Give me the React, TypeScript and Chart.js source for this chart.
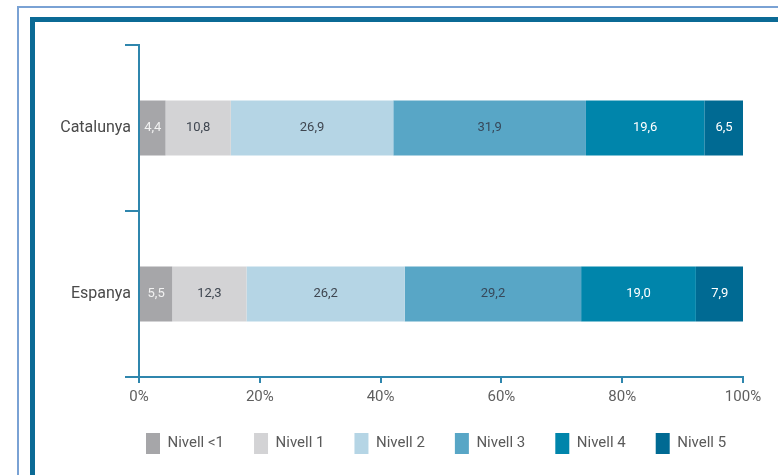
import React, { useEffect, useRef } from "react";
import { Chart, registerables } from "chart.js";

Chart.register(...registerables);

const categories = ["Catalunya", "Espanya"];
const seriesNames = ["Nivell <1", "Nivell 1", "Nivell 2", "Nivell 3", "Nivell 4", "Nivell 5"];
const nivellMenys1 = [4.4, 5.5];
const nivell1 = [10.8, 12.3];
const nivell2 = [26.9, 26.2];
const nivell3 = [31.9, 29.2];
const nivell4 = [19.6, 19.0];
const nivell5 = [6.5, 7.9];
const xTicks = [0, 20, 40, 60, 80, 100];

const seriesValues = [nivellMenys1, nivell1, nivell2, nivell3, nivell4, nivell5];
const seriesColors = ["#a6a6a9", "#d3d3d5", "#b5d5e5", "#58a6c6", "#0085ab", "#006a93"];
const labelColors = ["#f2f2f2", "#3f4650", "#3f4650", "#37485a", "#ffffff", "#ffffff"];

const FONT = "'Liberation Sans Narrow', 'Arial Narrow', Roboto, sans-serif";
const AXIS = "#2f86ad";

const valueLabels = {
  id: "valueLabels",
  afterDatasetsDraw(chart: any) {
    const ctx = chart.ctx;
    ctx.save();
    ctx.font = `13px ${FONT}`;
    ctx.textAlign = "center";
    ctx.textBaseline = "middle";
    chart.data.datasets.forEach((ds: any, i: number) => {
      const meta = chart.getDatasetMeta(i);
      meta.data.forEach((el: any, j: number) => {
        const v = ds.data[j];
        const cx = (el.x + el.base) / 2;
        ctx.fillStyle = labelColors[i];
        ctx.fillText(v.toFixed(1).replace(".", ","), cx, el.y);
      });
    });
    ctx.restore();
  },
};

const legendShift = {
  id: "legendShift",
  afterLayout(chart: any) {
    const lg = chart.legend;
    if (lg) {
      lg.left = 116;
      lg.right = 778;
      lg.top = 403;
      lg.bottom = 475;
    }
  },
};

export default function App() {
  const ref = useRef<HTMLCanvasElement>(null);
  useEffect(() => {
    if (!ref.current) return;
    const chart = new Chart(ref.current, {
      type: "bar",
      data: {
        labels: categories,
        datasets: seriesNames.map((name, i) => ({
          label: name,
          data: seriesValues[i],
          backgroundColor: seriesColors[i],
          borderWidth: 0,
          categoryPercentage: 1,
          barPercentage: 0.33,
        })),
      },
      options: {
        indexAxis: "y",
        animation: false,
        responsive: false,
        maintainAspectRatio: false,
        layout: { padding: { left: 0, right: 35, top: 45, bottom: 23 } },
        scales: {
          x: {
            stacked: true,
            min: 0,
            max: 100,
            afterBuildTicks: (scale: any) => {
              scale.ticks = xTicks.map((v) => ({ value: v }));
            },
            afterFit: (scale: any) => {
              scale.height = 25;
            },
            ticks: {
              callback: (v: any) => `${v}%`,
              color: "#5f5f5f",
              font: { family: FONT, size: 15 },
              padding: 5,
            },
            grid: {
              drawOnChartArea: false,
              drawTicks: true,
              tickLength: 6,
              color: AXIS,
              lineWidth: 2,
            },
            border: { display: true, color: AXIS, width: 2 },
          },
          y: {
            stacked: true,
            afterFit: (scale: any) => {
              scale.width = 139;
            },
            ticks: {
              color: "#4a4a4a",
              font: { family: FONT, size: 16 },
              padding: -6,
            },
            grid: {
              offset: true,
              drawOnChartArea: false,
              drawTicks: true,
              tickLength: 14,
              color: AXIS,
              lineWidth: 2,
            },
            border: { display: true, color: AXIS, width: 2 },
          },
        },
        plugins: {
          legend: {
            position: "bottom",
            align: "start",
            maxHeight: 50,
            labels: {
              boxWidth: 14,
              boxHeight: 21,
              padding: 30,
              color: "#5a5a5a",
              font: { family: FONT, size: 15 },
            },
          },
          tooltip: { enabled: false },
        },
      },
      plugins: [valueLabels, legendShift],
    });
    return () => chart.destroy();
  }, []);

  return (
    <div style={{ position: "absolute", left: 0, top: 0, width: 778, height: 475, overflow: "hidden", background: "#fff" }}>
      <div style={{ position: "absolute", left: 17, top: 6, width: 800, height: 500, borderLeft: "2px solid #7aa2d4", borderTop: "2px solid #7aa2d4" }} />
      <div style={{ position: "absolute", left: 30, top: 17, width: 800, height: 500, borderLeft: "5px solid #0b6a95", borderTop: "5px solid #0b6a95" }} />
      <canvas ref={ref} width={778} height={475} style={{ position: "absolute", left: 0, top: 0 }} />
    </div>
  );
}
